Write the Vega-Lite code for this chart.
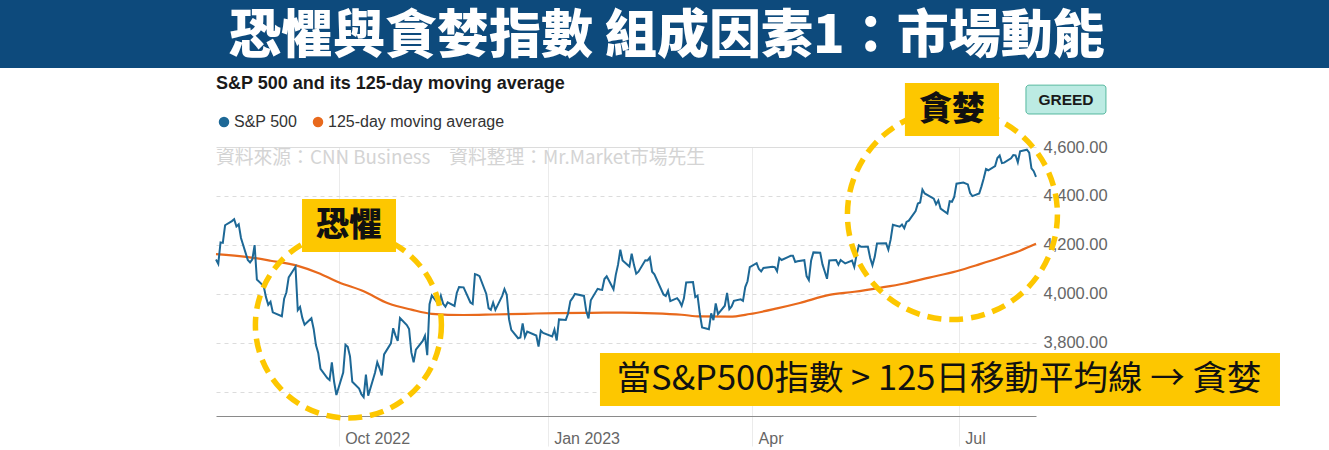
{
  "$schema": "https://vega.github.io/schema/vega-lite/v6.json",
  "width": 820,
  "height": 269,
  "autosize": "none",
  "padding": {"left": 216, "top": 147, "right": 293, "bottom": 34},
  "background": "white",
  "config": {"view": {"stroke": null}, "font": "Liberation Sans"},
  "datasets": {
    "sp": [
      {"date":"2022-08-08","v":4140},{"date":"2022-08-09","v":4122},{"date":"2022-08-10","v":4210},{"date":"2022-08-11","v":4208},{"date":"2022-08-12","v":4280},{"date":"2022-08-15","v":4297},{"date":"2022-08-16","v":4305},{"date":"2022-08-17","v":4275},{"date":"2022-08-18","v":4284},{"date":"2022-08-19","v":4228},{"date":"2022-08-22","v":4138},{"date":"2022-08-23","v":4128},{"date":"2022-08-24","v":4141},{"date":"2022-08-25","v":4199},{"date":"2022-08-26","v":4058},{"date":"2022-08-29","v":4031},{"date":"2022-08-30","v":3986},{"date":"2022-08-31","v":3955},
      {"date":"2022-09-01","v":3967},{"date":"2022-09-02","v":3924},{"date":"2022-09-06","v":3908},{"date":"2022-09-07","v":3980},{"date":"2022-09-08","v":4006},{"date":"2022-09-09","v":4067},{"date":"2022-09-12","v":4110},{"date":"2022-09-13","v":3933},{"date":"2022-09-14","v":3946},{"date":"2022-09-15","v":3901},{"date":"2022-09-16","v":3873},{"date":"2022-09-19","v":3900},{"date":"2022-09-20","v":3856},{"date":"2022-09-21","v":3790},{"date":"2022-09-22","v":3758},{"date":"2022-09-23","v":3693},{"date":"2022-09-26","v":3655},{"date":"2022-09-27","v":3647},{"date":"2022-09-28","v":3719},{"date":"2022-09-29","v":3640},{"date":"2022-09-30","v":3586},
      {"date":"2022-10-03","v":3678},{"date":"2022-10-04","v":3791},{"date":"2022-10-05","v":3783},{"date":"2022-10-06","v":3744},{"date":"2022-10-07","v":3640},{"date":"2022-10-10","v":3612},{"date":"2022-10-11","v":3589},{"date":"2022-10-12","v":3577},{"date":"2022-10-13","v":3669},{"date":"2022-10-14","v":3583},{"date":"2022-10-17","v":3677},{"date":"2022-10-18","v":3720},{"date":"2022-10-19","v":3695},{"date":"2022-10-20","v":3666},{"date":"2022-10-21","v":3752},{"date":"2022-10-24","v":3797},{"date":"2022-10-25","v":3859},{"date":"2022-10-26","v":3830},{"date":"2022-10-27","v":3807},{"date":"2022-10-28","v":3901},{"date":"2022-10-31","v":3872},
      {"date":"2022-11-01","v":3856},{"date":"2022-11-02","v":3760},{"date":"2022-11-03","v":3720},{"date":"2022-11-04","v":3771},{"date":"2022-11-07","v":3807},{"date":"2022-11-08","v":3828},{"date":"2022-11-09","v":3749},{"date":"2022-11-10","v":3957},{"date":"2022-11-11","v":3993},{"date":"2022-11-14","v":3957},{"date":"2022-11-15","v":3992},{"date":"2022-11-16","v":3959},{"date":"2022-11-17","v":3947},{"date":"2022-11-18","v":3965},{"date":"2022-11-21","v":3950},{"date":"2022-11-22","v":4003},{"date":"2022-11-23","v":4027},{"date":"2022-11-25","v":4026},{"date":"2022-11-28","v":3964},{"date":"2022-11-29","v":3958},{"date":"2022-11-30","v":4080},
      {"date":"2022-12-01","v":4077},{"date":"2022-12-02","v":4072},{"date":"2022-12-05","v":3999},{"date":"2022-12-06","v":3941},{"date":"2022-12-07","v":3934},{"date":"2022-12-08","v":3964},{"date":"2022-12-09","v":3934},{"date":"2022-12-12","v":3991},{"date":"2022-12-13","v":4019},{"date":"2022-12-14","v":3996},{"date":"2022-12-15","v":3896},{"date":"2022-12-16","v":3852},{"date":"2022-12-19","v":3818},{"date":"2022-12-20","v":3821},{"date":"2022-12-21","v":3879},{"date":"2022-12-22","v":3823},{"date":"2022-12-23","v":3845},{"date":"2022-12-27","v":3829},{"date":"2022-12-28","v":3784},{"date":"2022-12-29","v":3849},{"date":"2022-12-30","v":3840},
      {"date":"2023-01-03","v":3825},{"date":"2023-01-04","v":3853},{"date":"2023-01-05","v":3809},{"date":"2023-01-06","v":3895},{"date":"2023-01-09","v":3893},{"date":"2023-01-10","v":3919},{"date":"2023-01-11","v":3970},{"date":"2023-01-12","v":3983},{"date":"2023-01-13","v":3999},{"date":"2023-01-17","v":3991},{"date":"2023-01-18","v":3929},{"date":"2023-01-19","v":3899},{"date":"2023-01-20","v":3973},{"date":"2023-01-23","v":4020},{"date":"2023-01-24","v":4017},{"date":"2023-01-25","v":4016},{"date":"2023-01-26","v":4060},{"date":"2023-01-27","v":4071},{"date":"2023-01-30","v":4018},{"date":"2023-01-31","v":4077},
      {"date":"2023-02-01","v":4119},{"date":"2023-02-02","v":4180},{"date":"2023-02-03","v":4136},{"date":"2023-02-06","v":4111},{"date":"2023-02-07","v":4164},{"date":"2023-02-08","v":4118},{"date":"2023-02-09","v":4082},{"date":"2023-02-10","v":4090},{"date":"2023-02-13","v":4137},{"date":"2023-02-14","v":4136},{"date":"2023-02-15","v":4148},{"date":"2023-02-16","v":4090},{"date":"2023-02-17","v":4079},{"date":"2023-02-21","v":3997},{"date":"2023-02-22","v":3991},{"date":"2023-02-23","v":4012},{"date":"2023-02-24","v":3970},{"date":"2023-02-27","v":3982},{"date":"2023-02-28","v":3970},
      {"date":"2023-03-01","v":3951},{"date":"2023-03-02","v":3981},{"date":"2023-03-03","v":4046},{"date":"2023-03-06","v":4048},{"date":"2023-03-07","v":3986},{"date":"2023-03-08","v":3992},{"date":"2023-03-09","v":3918},{"date":"2023-03-10","v":3862},{"date":"2023-03-13","v":3855},{"date":"2023-03-14","v":3920},{"date":"2023-03-15","v":3892},{"date":"2023-03-16","v":3960},{"date":"2023-03-17","v":3917},{"date":"2023-03-20","v":3951},{"date":"2023-03-21","v":4003},{"date":"2023-03-22","v":3937},{"date":"2023-03-23","v":3948},{"date":"2023-03-24","v":3971},{"date":"2023-03-27","v":3977},{"date":"2023-03-28","v":3971},{"date":"2023-03-29","v":4027},{"date":"2023-03-30","v":4051},{"date":"2023-03-31","v":4109},
      {"date":"2023-04-03","v":4125},{"date":"2023-04-04","v":4101},{"date":"2023-04-05","v":4091},{"date":"2023-04-06","v":4105},{"date":"2023-04-10","v":4110},{"date":"2023-04-11","v":4109},{"date":"2023-04-12","v":4092},{"date":"2023-04-13","v":4146},{"date":"2023-04-14","v":4138},{"date":"2023-04-17","v":4151},{"date":"2023-04-18","v":4155},{"date":"2023-04-19","v":4155},{"date":"2023-04-20","v":4130},{"date":"2023-04-21","v":4133},{"date":"2023-04-24","v":4137},{"date":"2023-04-25","v":4072},{"date":"2023-04-26","v":4056},{"date":"2023-04-27","v":4136},{"date":"2023-04-28","v":4169},
      {"date":"2023-05-01","v":4168},{"date":"2023-05-02","v":4120},{"date":"2023-05-03","v":4091},{"date":"2023-05-04","v":4061},{"date":"2023-05-05","v":4136},{"date":"2023-05-08","v":4138},{"date":"2023-05-09","v":4119},{"date":"2023-05-10","v":4138},{"date":"2023-05-11","v":4131},{"date":"2023-05-12","v":4124},{"date":"2023-05-15","v":4136},{"date":"2023-05-16","v":4110},{"date":"2023-05-17","v":4159},{"date":"2023-05-18","v":4198},{"date":"2023-05-19","v":4192},{"date":"2023-05-22","v":4192},{"date":"2023-05-23","v":4146},{"date":"2023-05-24","v":4116},{"date":"2023-05-25","v":4151},{"date":"2023-05-26","v":4205},{"date":"2023-05-30","v":4206},{"date":"2023-05-31","v":4180},
      {"date":"2023-06-01","v":4221},{"date":"2023-06-02","v":4282},{"date":"2023-06-05","v":4274},{"date":"2023-06-06","v":4283},{"date":"2023-06-07","v":4268},{"date":"2023-06-08","v":4294},{"date":"2023-06-09","v":4299},{"date":"2023-06-12","v":4338},{"date":"2023-06-13","v":4369},{"date":"2023-06-14","v":4373},{"date":"2023-06-15","v":4426},{"date":"2023-06-16","v":4410},{"date":"2023-06-20","v":4389},{"date":"2023-06-21","v":4366},{"date":"2023-06-22","v":4381},{"date":"2023-06-23","v":4348},{"date":"2023-06-26","v":4328},{"date":"2023-06-27","v":4378},{"date":"2023-06-28","v":4376},{"date":"2023-06-29","v":4396},{"date":"2023-06-30","v":4450},
      {"date":"2023-07-03","v":4455},{"date":"2023-07-05","v":4447},{"date":"2023-07-06","v":4412},{"date":"2023-07-07","v":4399},{"date":"2023-07-10","v":4410},{"date":"2023-07-11","v":4439},{"date":"2023-07-12","v":4472},{"date":"2023-07-13","v":4510},{"date":"2023-07-14","v":4505},{"date":"2023-07-17","v":4522},{"date":"2023-07-18","v":4555},{"date":"2023-07-19","v":4565},{"date":"2023-07-20","v":4534},{"date":"2023-07-21","v":4536},{"date":"2023-07-24","v":4554},{"date":"2023-07-25","v":4567},{"date":"2023-07-26","v":4566},{"date":"2023-07-27","v":4537},{"date":"2023-07-28","v":4582},{"date":"2023-07-31","v":4589},
      {"date":"2023-08-01","v":4577},{"date":"2023-08-02","v":4513},{"date":"2023-08-03","v":4501},{"date":"2023-08-04","v":4478}
    ],
    "ma": [
      {"date":"2022-08-08","v":4162},{"date":"2022-08-22","v":4150},{"date":"2022-09-01","v":4135},{"date":"2022-09-13","v":4114},{"date":"2022-09-22","v":4085},{"date":"2022-10-01","v":4047},{"date":"2022-10-12","v":4010},{"date":"2022-10-23","v":3960},{"date":"2022-11-02","v":3935},{"date":"2022-11-11","v":3918},{"date":"2022-11-25","v":3913},{"date":"2022-12-08","v":3915},{"date":"2022-12-22","v":3918},{"date":"2023-01-05","v":3921},{"date":"2023-01-20","v":3922},{"date":"2023-02-03","v":3923},{"date":"2023-02-17","v":3920},{"date":"2023-03-01","v":3914},{"date":"2023-03-09","v":3907},{"date":"2023-03-22","v":3906},{"date":"2023-03-31","v":3917},{"date":"2023-04-12","v":3940},{"date":"2023-04-22","v":3962},{"date":"2023-05-05","v":3995},{"date":"2023-05-16","v":4008},{"date":"2023-05-27","v":4024},{"date":"2023-06-07","v":4042},{"date":"2023-06-18","v":4066},{"date":"2023-06-30","v":4092},{"date":"2023-07-10","v":4120},{"date":"2023-07-20","v":4150},{"date":"2023-07-28","v":4176},{"date":"2023-08-04","v":4204}
    ]
  },
  "encoding": {
    "x": {
      "field": "date", "type": "temporal",
      "scale": {"type": "utc", "domain": [{"year": 2022, "month": 8, "date": 8, "utc": true}, {"year": 2023, "month": 8, "date": 4, "utc": true}]},
      "axis": {
        "title": null,
        "values": [{"year": 2022, "month": 10, "date": 1, "utc": true}, {"year": 2023, "month": 1, "date": 1, "utc": true}, {"year": 2023, "month": 4, "date": 1, "utc": true}, {"year": 2023, "month": 7, "date": 1, "utc": true}],
        "labelExpr": "(utcmonth(datum.value) == 0 || utcmonth(datum.value) == 9) ? utcFormat(datum.value, '%b %Y') : utcFormat(datum.value, '%b')",
        "labelAlign": "left", "labelBaseline": "top", "labelOffset": 6, "labelPadding": -16,
        "labelFont": "Liberation Sans", "labelFontSize": 16, "labelColor": "#666666",
        "labelFlush": false, "labelOverlap": false,
        "domainColor": "#8a8a8a", "domainWidth": 1,
        "grid": true, "gridColor": "#ebebeb", "gridWidth": 1,
        "ticks": true, "tickSize": 30, "tickColor": "#ebebeb", "tickWidth": 1
      }
    },
    "y": {
      "field": "v", "type": "quantitative",
      "scale": {"domain": [3500, 4600], "nice": false, "zero": false},
      "axis": {
        "title": null, "orient": "right",
        "values": [3600, 3800, 4000, 4200, 4400, 4600],
        "labelExpr": "datum.value < 3700 ? '' : format(datum.value, ',.2f')",
        "labelPadding": 7,
        "labelFont": "Liberation Sans", "labelFontSize": 16.5, "labelColor": "#666666",
        "ticks": false, "domain": false,
        "grid": true, "gridColor": "#dcdcdc",
        "gridDash": {"condition": {"test": "datum.value >= 4600", "value": []}, "value": [4, 4]}
      }
    }
  },
  "layer": [
    {
      "data": {"values": [{"date": "2022-04-01", "date2": "2024-01-31", "v": 4923, "v2": 5400}], "format": {"parse": {"date": "date", "date2": "date"}}},
      "mark": {"type": "rect", "color": "#0d4a7c"},
      "encoding": {"x2": {"field": "date2"}, "y2": {"field": "v2"}}
    },
    {
      "data": {"values": [{"date": "2023-02-22T12:00:00Z", "v": 5048, "label": "恐懼與貪婪指數 組成因素1：市場動能"}]},
      "mark": {"type": "text", "font": "Noto Sans CJK TC", "fontSize": 52, "fontWeight": 900, "color": "white", "align": "center", "baseline": "middle"},
      "encoding": {"text": {"field": "label"}}
    },
    {
      "data": {"values": [{"date": "2022-08-08", "v": 4858, "label": "S&P 500 and its 125-day moving average"}]},
      "mark": {"type": "text", "font": "Liberation Sans", "fontSize": 18, "fontWeight": "bold", "color": "#1a1a1a", "align": "left", "baseline": "middle"},
      "encoding": {"text": {"field": "label"}}
    },
    {
      "data": {"values": [{"date": "2022-08-08", "v": 4555, "label": "資料來源：CNN Business　資料整理：Mr.Market市場先生"}]},
      "mark": {"type": "text", "font": "Noto Sans CJK TC", "fontSize": 18.8, "color": "#d4d4d4", "align": "left", "baseline": "middle"},
      "encoding": {"text": {"field": "label"}}
    },
    {
      "data": {"name": "ma"},
      "mark": {"type": "line", "strokeWidth": 2.2, "interpolate": "monotone"},
      "encoding": {
        "color": {"datum": "125-day moving average", "type": "nominal",
          "scale": {"domain": ["S&P 500", "125-day moving average"], "range": ["#1d6896", "#e8691c"]},
          "legend": {
            "title": null, "orient": "none", "legendX": 0, "legendY": -33, "direction": "horizontal",
            "symbolType": "circle", "symbolSize": 110, "symbolStrokeWidth": 0,
            "labelFont": "Liberation Sans", "labelFontSize": 16, "labelColor": "#333333", "labelOffset": 2, "labelLimit": 400,
            "columnPadding": 12, "padding": 0,
            "encode": {"symbols": {"update": {"fill": {"scale": "color", "field": "value"}, "stroke": {"value": "transparent"}}}}
          }
        }
      }
    },
    {
      "data": {"name": "sp"},
      "mark": {"type": "line", "strokeWidth": 2},
      "encoding": {"color": {"datum": "S&P 500", "type": "nominal"}}
    },
    {
      "data": {"values": [{"date": "2022-10-05T07:00:00Z", "v": 3872}]},
      "mark": {"type": "point", "shape": "circle", "filled": false, "size": 34596, "stroke": "#fdc700", "strokeWidth": 5.5, "strokeDash": [14, 8], "opacity": 1}
    },
    {
      "data": {"values": [{"date": "2023-06-28T05:00:00Z", "v": 4324}]},
      "mark": {"type": "point", "shape": "circle", "filled": false, "size": 44100, "stroke": "#fdc700", "strokeWidth": 5.5, "strokeDash": [14, 8], "opacity": 1}
    },
    {
      "data": {"values": [
        {"date": "2022-09-14T21:00:00Z", "date2": "2022-10-26T06:00:00Z", "v": 4171, "v2": 4387},
        {"date": "2023-06-07T07:00:00Z", "date2": "2023-07-18T17:00:00Z", "v": 4645, "v2": 4862},
        {"date": "2023-01-24T01:00:00Z", "date2": "2023-11-19T10:00:00Z", "v": 3541, "v2": 3758}
      ], "format": {"parse": {"date": "date", "date2": "date"}}},
      "mark": {"type": "rect", "color": "#fdc700"},
      "encoding": {"x2": {"field": "date2"}, "y2": {"field": "v2"}}
    },
    {
      "data": {"values": [
        {"date": "2022-10-05T13:00:00Z", "v": 4277, "label": "恐懼"},
        {"date": "2023-06-28T00:00:00Z", "v": 4751, "label": "貪婪"}
      ]},
      "mark": {"type": "text", "font": "Noto Sans CJK TC", "fontSize": 33, "fontWeight": 900, "color": "#111111", "align": "center", "baseline": "middle"},
      "encoding": {"text": {"field": "label"}}
    },
    {
      "data": {"values": [{"date": "2023-06-22T07:00:00Z", "v": 3647, "label": "當S&P500指數 > 125日移動平均線 → 貪婪"}]},
      "mark": {"type": "text", "font": "Noto Sans CJK TC", "fontSize": 34.5, "color": "#111111", "align": "center", "baseline": "middle"},
      "encoding": {"text": {"field": "label"}}
    },
    {
      "data": {"values": [{"date": "2023-07-30T14:00:00Z", "date2": "2023-09-03T19:00:00Z", "v": 4735, "v2": 4853}], "format": {"parse": {"date": "date", "date2": "date"}}},
      "mark": {"type": "rect", "fill": "#bcebe3", "stroke": "#55b89e", "strokeWidth": 1, "cornerRadius": 3},
      "encoding": {"x2": {"field": "date2"}, "y2": {"field": "v2"}}
    },
    {
      "data": {"values": [{"date": "2023-08-17T05:00:00Z", "v": 4792, "label": "GREED"}]},
      "mark": {"type": "text", "font": "Liberation Sans", "fontSize": 15.5, "fontWeight": "bold", "color": "#1a1a1a", "align": "center", "baseline": "middle"},
      "encoding": {"text": {"field": "label"}}
    }
  ]
}
